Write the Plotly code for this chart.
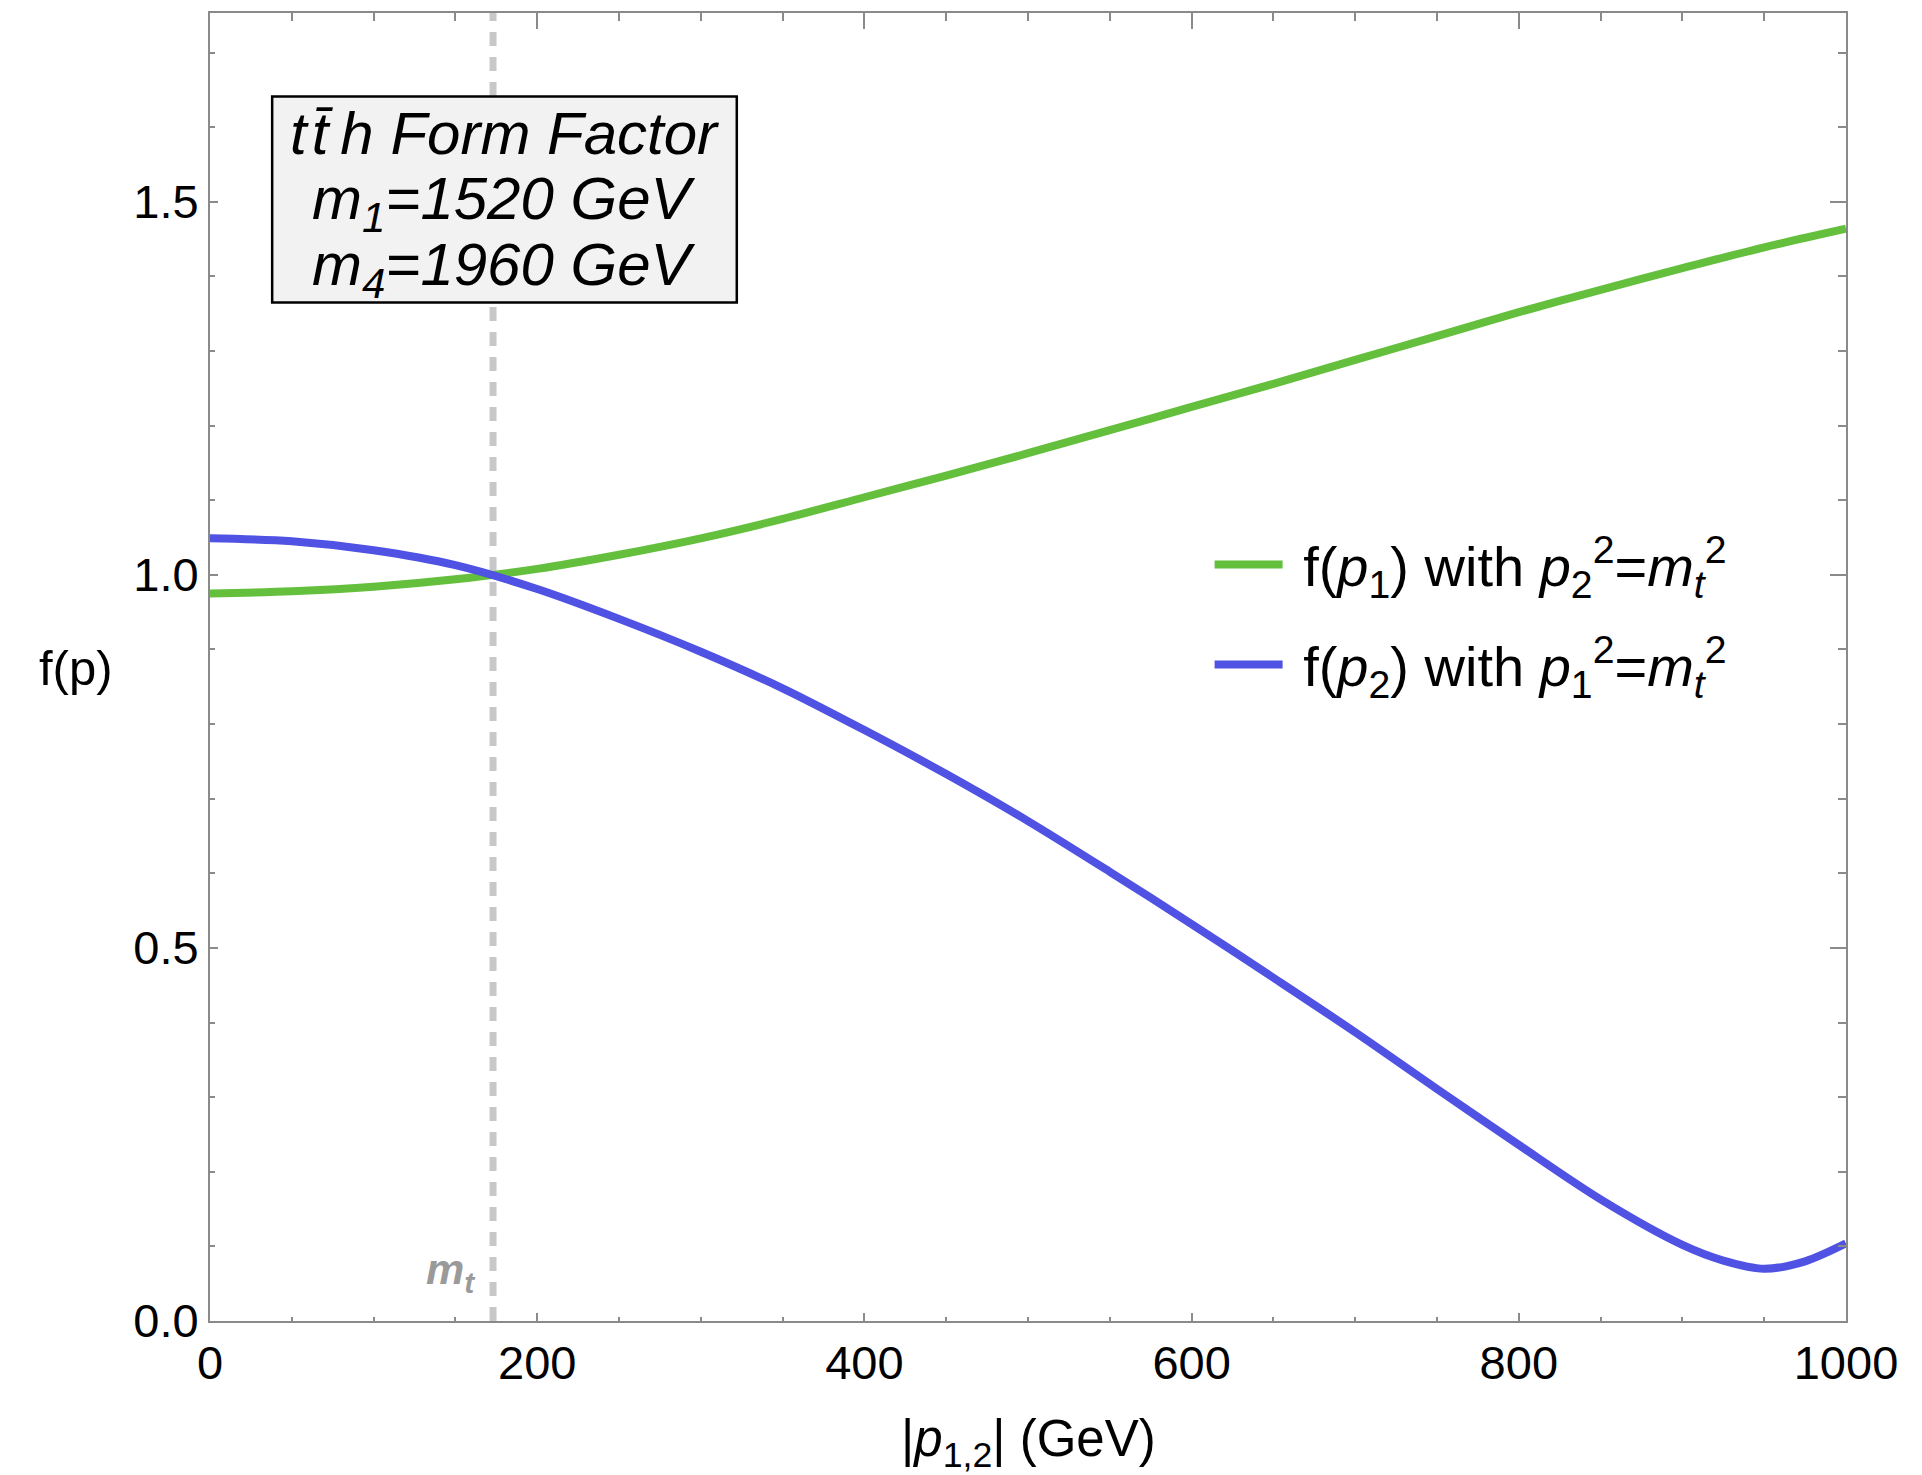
import plotly.graph_objects as go

# Form factor vs. off-shell momentum |p| (GeV)
p1_gev = [0, 50, 100, 150, 200, 250, 300, 350, 400, 450, 500, 550, 600, 650, 700, 750,
          800, 850, 900, 950, 1000]
f_p1 = [0.975, 0.978, 0.984, 0.994, 1.008, 1.027, 1.049, 1.075, 1.104, 1.133, 1.163,
        1.194, 1.225, 1.256, 1.288, 1.320, 1.352, 1.382, 1.411, 1.439, 1.464]

p2_gev = [0, 50, 100, 150, 200, 250, 300, 350, 400, 450, 500, 550, 600, 650, 700, 750,
          800, 850, 900, 925, 950, 975, 1000]
f_p2 = [1.049, 1.045, 1.033, 1.013, 0.981, 0.941, 0.897, 0.848, 0.792, 0.733, 0.670,
        0.602, 0.532, 0.460, 0.387, 0.311, 0.236, 0.163, 0.102, 0.081, 0.070, 0.080, 0.104]

M_TOP = 173  # top-quark mass marker (GeV)
x_ticks = [0, 200, 400, 600, 800, 1000]
y_ticks = [0.0, 0.5, 1.0, 1.5]
X_RANGE = [0, 1000]
Y_RANGE = [0, 1.753]

GREEN = "#63bf3c"
BLUE = "#4f52e2"
FRAME = "#8a8a8a"
FONT = "Liberation Sans"
FS = 47

fig = go.Figure()
fig.add_trace(go.Scatter(
    x=p1_gev, y=f_p1, mode="lines", line=dict(color=GREEN, width=8, shape="spline", smoothing=0.9),
    name="&nbsp;f(<i>p</i><sub>1</sub>) with <i>p</i><sub>2</sub><sup>2</sup>=<i>m<sub>t</sub></i><sup>2</sup>",
    legendgroup="a",
))
fig.add_trace(go.Scatter(
    x=p2_gev, y=f_p2, mode="lines", line=dict(color=BLUE, width=8, shape="spline", smoothing=0.9),
    name="&nbsp;f(<i>p</i><sub>2</sub>) with <i>p</i><sub>1</sub><sup>2</sup>=<i>m<sub>t</sub></i><sup>2</sup>",
    legendgroup="b",
))

# dashed marker at the top mass
fig.add_shape(type="line", xref="x", yref="paper", x0=M_TOP, x1=M_TOP, y0=0, y1=1,
              line=dict(color="#c8c8c8", width=7, dash="14px,11px"), layer="below")

# info box
fig.add_shape(type="rect", xref="x", yref="y", x0=38, x1=322, y0=1.365, y1=1.641,
              line=dict(color="black", width=2.5), fillcolor="#f2f2f2", layer="above")
box_lines = ["t\u200at\u0304\u2009h Form Factor",
             "m<sub>1</sub>=1520 GeV",
             "m<sub>4</sub>=1960 GeV"]
box_y = [1.591, 1.499, 1.410]
for txt, yy in zip(box_lines, box_y):
    fig.add_annotation(x=180, y=yy, xref="x", yref="y", text="<i>" + txt + "</i>",
                       showarrow=False, xanchor="center", yanchor="middle",
                       font=dict(family=FONT, size=60, color="black"))

fig.add_annotation(x=M_TOP - 9, y=0.066, xref="x", yref="y",
                   text="<b><i>m<sub>t</sub></i></b>", showarrow=False,
                   xanchor="right", yanchor="middle",
                   font=dict(family=FONT, size=43, color="#9a9a9a"))

# axis labels
fig.add_annotation(x=-0.082, y=0.875, xref="paper", yref="y", text="f(p)",
                   showarrow=False, xanchor="center", yanchor="middle",
                   font=dict(family=FONT, size=49, color="black"))
fig.add_annotation(x=500, y=-0.093, xref="x", yref="paper",
                   text="|<i>p</i><sub>1,2</sub>| (GeV)", showarrow=False,
                   xanchor="center", yanchor="middle",
                   font=dict(family=FONT, size=51, color="black"))

axis_common = dict(showgrid=False, zeroline=False, linecolor=FRAME, linewidth=2,
                   tickcolor=FRAME, tickwidth=1.5, ticks="inside")

fig.update_layout(
    width=1922, height=1475,
    margin=dict(l=210, r=76, t=13, b=154),
    paper_bgcolor="white", plot_bgcolor="white",
    font=dict(family=FONT, size=FS, color="black"),
    xaxis=dict(range=X_RANGE, tickvals=x_ticks, ticklen=8, mirror=True, showline=True,
               tickfont=dict(size=FS), ticklabelstandoff=0,
               minor=dict(dtick=50, ticklen=4, tickcolor=FRAME, ticks="inside"),
               **axis_common),
    yaxis=dict(range=Y_RANGE, tickvals=y_ticks, tickformat=".1f", ticklen=8, mirror=True,
               showline=True, tickfont=dict(size=FS),
               minor=dict(dtick=0.1, ticklen=5, tickcolor=FRAME, ticks="inside"),
               **axis_common),
    xaxis2=dict(range=X_RANGE, overlaying="x", side="top", tickvals=x_ticks, ticklen=16,
                showticklabels=False, showline=False,
                minor=dict(dtick=50, ticklen=8, tickcolor=FRAME, ticks="inside"),
                **axis_common),
    yaxis2=dict(range=Y_RANGE, overlaying="y", side="right", tickvals=y_ticks, ticklen=16,
                showticklabels=False, showline=False,
                minor=dict(dtick=0.1, ticklen=8, tickcolor=FRAME, ticks="inside"),
                **axis_common),
    showlegend=True,
    legend=dict(x=0.611, y=0.540, xanchor="left", yanchor="middle",
                bgcolor="rgba(0,0,0,0)", borderwidth=0, tracegroupgap=24,
                itemwidth=68, font=dict(family=FONT, size=56)),
)
# hidden trace so the top/right frame axes are drawn
fig.add_trace(go.Scatter(x=[None], y=[None], xaxis="x2", yaxis="y2", showlegend=False,
                         hoverinfo="skip"))

fig.write_html("out.html")
